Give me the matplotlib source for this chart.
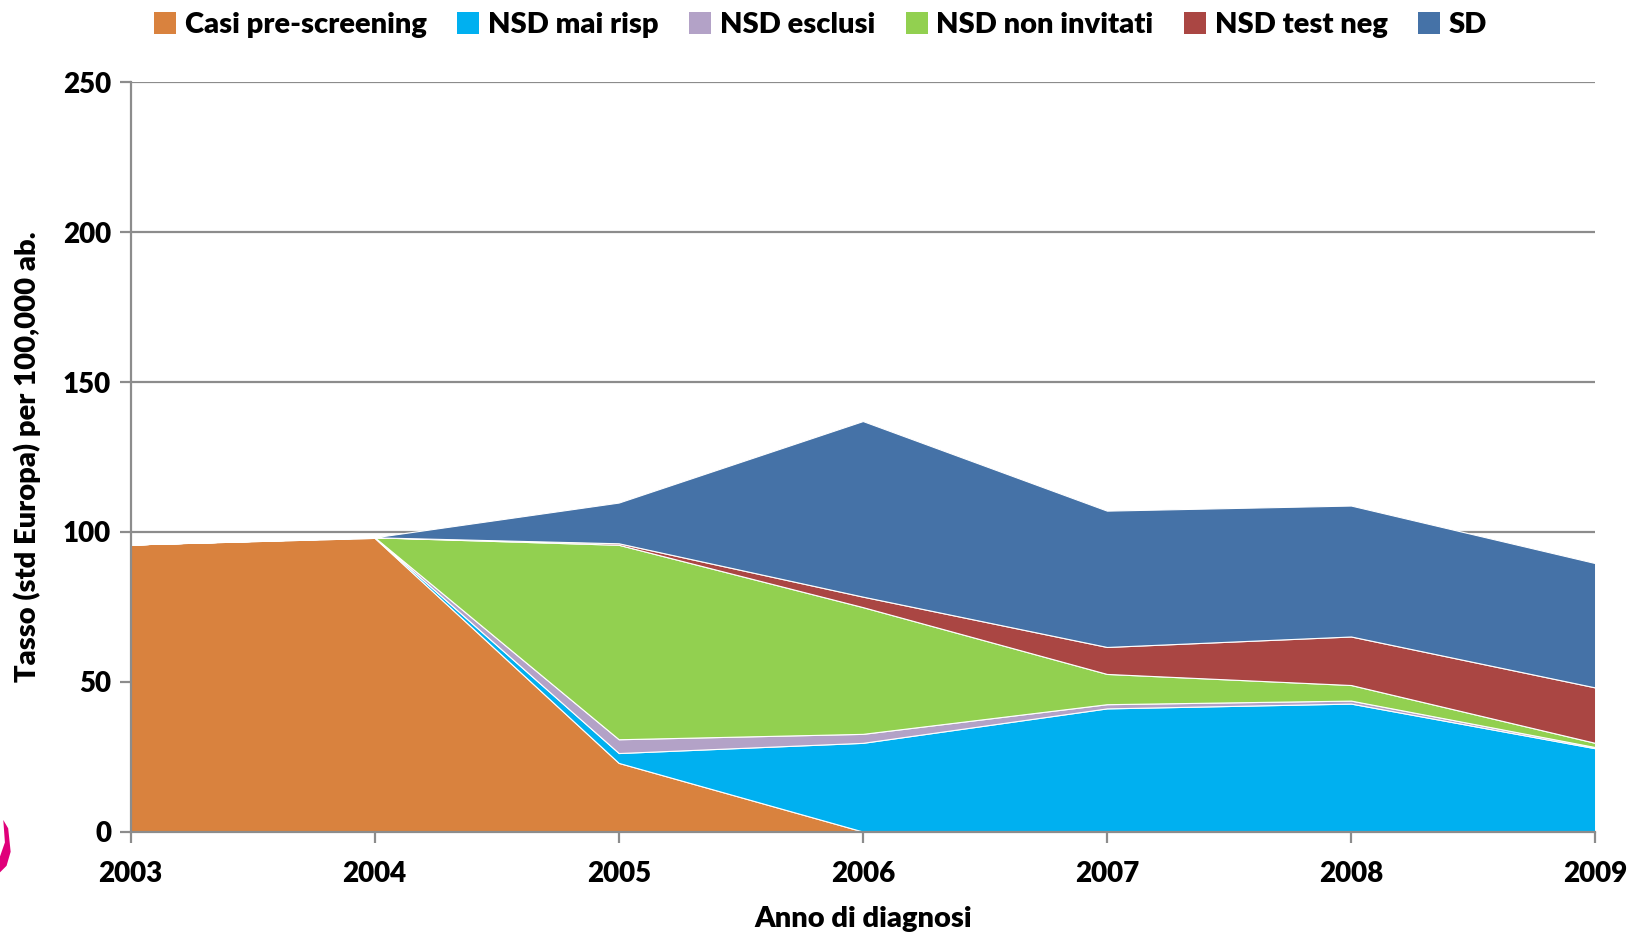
import matplotlib.pyplot as plt
from matplotlib.patches import Patch, Polygon

# dati
anni = [2003, 2004, 2005, 2006, 2007, 2008, 2009]
serie = ["Casi pre-screening", "NSD mai risp", "NSD esclusi",
         "NSD non invitati", "NSD test neg", "SD"]
casi_pre = [95.8, 98.0, 22.9, 0.0, 0.0, 0.0, 0.0]
nsd_mai_risp = [0.0, 0.2, 3.3, 29.6, 41.1, 42.7, 27.8]
nsd_esclusi = [0.0, 0.0, 4.6, 3.0, 1.4, 1.0, 0.4]
nsd_non_invitati = [0.0, 0.0, 64.9, 42.3, 10.1, 5.2, 1.4]
nsd_test_neg = [0.0, 0.0, 0.5, 3.5, 9.0, 16.2, 18.5]
sd = [0.0, 0.0, 13.6, 58.6, 45.5, 43.7, 41.5]
colori = ["#D9823E", "#00B0F0", "#B3A2C7", "#92D050", "#AA4643", "#4572A7"]

plt.rcParams['font.family'] = ['Lato', 'DejaVu Sans']
plt.rcParams['font.weight'] = 'heavy'

fig = plt.figure(figsize=(16.38, 9.36), dpi=100)
ax = fig.add_axes([0.0797, 0.1116, 0.8941, 0.8003])

ax.stackplot(anni, casi_pre, nsd_mai_risp, nsd_esclusi, nsd_non_invitati,
             nsd_test_neg, sd, colors=colori, edgecolor='white', linewidth=0.8,
             zorder=3)

ax.set_xlim(2003, 2009)
ax.set_ylim(0, 250)
ax.set_yticks(range(0, 251, 50))
ax.set_xticks(anni)
ax.grid(axis='y', color='#8C8C8C', linewidth=1.6, zorder=1)
for s in ['top', 'right']:
    ax.spines[s].set_visible(False)
for s in ['left', 'bottom']:
    ax.spines[s].set_color('#8C8C8C')
    ax.spines[s].set_linewidth(1.6)
    ax.spines[s].set_zorder(4)
ax.tick_params(axis='both', direction='out', length=8, width=1.6,
               color='#8C8C8C', labelsize=20, pad=6)
ax.tick_params(axis='x', pad=13)
for lab in ax.get_xticklabels() + ax.get_yticklabels():
    lab.set_fontweight('heavy')

ax.set_xlabel("Anno di diagnosi", fontsize=21, fontweight='heavy', labelpad=14)
ax.set_ylabel("Tasso (std Europa) per 100,000 ab.", fontsize=21,
              fontweight='heavy', labelpad=16)

handles = [Patch(facecolor=c, edgecolor='none') for c in colori]
fig.legend(handles, serie, loc='upper center', bbox_to_anchor=(0.501, 1.015),
           ncol=6, frameon=False, handlelength=0.75,
           handleheight=0.75, handletextpad=0.3, columnspacing=1.05,
           prop={'weight': 'heavy', 'size': 21})

# piccolo elemento decorativo rosa sul bordo sinistro
fig.patches.append(Polygon([[0.0, 0.068], [0.004, 0.075], [0.0065, 0.09],
                            [0.005, 0.115], [0.002, 0.124], [0.003, 0.10],
                            [0.0, 0.085]],
                           closed=True, facecolor='#E0007A', edgecolor='none',
                           transform=fig.transFigure))

fig.savefig("out.png", dpi=100)
